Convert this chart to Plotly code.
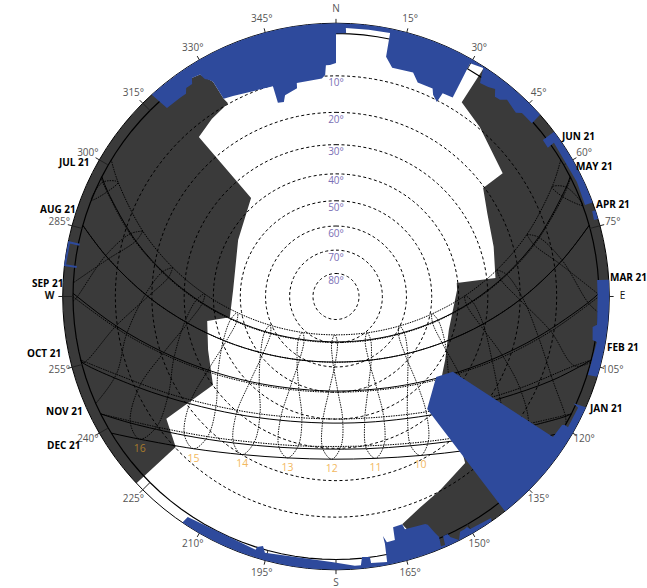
import math
import plotly.graph_objects as go

# ---- sun positions: azimuth / altitude in degrees, one entry per clock hour
JUN_FIRST, JUL_FIRST, AUG_FIRST, SEP_FIRST, OCT_FIRST, NOV_FIRST = 5, 5, 6, 6, 7, 7
DEC_FIRST, JAN_FIRST, FEB_FIRST, MAR_FIRST, APR_FIRST, MAY_FIRST = 8, 8, 7, 7, 6, 5
JUN_AZ = [63.1, 72.0, 80.6, 89.7, 100.3, 114.9, 139.4, 181.9, 223.1, 246.5, 260.7, 271.1, 280.1, 288.7, 297.7]
JUN_ALT = [4.7, 15.3, 26.4, 37.8, 49.3, 60.2, 69.4, 73.4, 68.8, 59.4, 48.4, 36.9, 25.5, 14.4, 3.8]
JUL_AZ = [64.6, 73.7, 82.6, 92.0, 103.0, 117.8, 141.2, 178.3, 216.4, 240.7, 256.0, 267.2, 276.6, 285.5, 294.7]
JUL_ALT = [1.8, 12.5, 23.7, 35.2, 46.6, 57.4, 66.3, 70.4, 66.9, 58.2, 47.5, 36.1, 24.7, 13.4, 2.6]
AUG_AZ = [80.9, 90.4, 100.6, 112.6, 128.5, 151.0, 180.5, 209.9, 232.1, 247.8, 259.8, 270.0, 279.4]
AUG_ALT = [7.9, 19.3, 30.7, 41.7, 51.6, 59.1, 62.0, 58.9, 51.3, 41.4, 30.4, 18.9, 7.5]
SEP_AZ = [91.4, 101.2, 112.0, 124.9, 140.9, 161.1, 184.2, 206.7, 225.3, 240.1, 252.0, 262.4]
SEP_ALT = [2.4, 13.8, 24.8, 34.9, 43.3, 48.9, 50.4, 47.4, 40.6, 31.4, 20.9, 9.7]
OCT_AZ = [111.1, 121.9, 134.6, 149.6, 167.2, 186.1, 204.3, 220.3, 233.8, 245.2, 255.3]
OCT_ALT = [7.1, 17.4, 26.4, 33.5, 37.7, 38.4, 35.4, 29.2, 20.8, 10.9, 0.3]
NOV_AZ = [117.6, 128.0, 139.8, 153.4, 168.7, 184.9, 200.7, 215.0, 227.5, 238.4]
NOV_ALT = [0.9, 10.5, 18.8, 25.2, 28.9, 29.6, 27.0, 21.6, 14.0, 4.9]
DEC_AZ = [128.1, 139.2, 152.0, 166.3, 181.5, 196.7, 210.7, 223.1, 234.0]
DEC_ALT = [6.4, 14.7, 21.2, 25.3, 26.5, 24.7, 20.1, 13.2, 4.6]
JAN_AZ = [123.5, 134.6, 147.5, 162.1, 178.1, 194.2, 209.3, 222.5, 234.0]
JAN_ALT = [7.5, 16.5, 23.7, 28.6, 30.6, 29.3, 25.1, 18.3, 9.7]
FEB_AZ = [106.2, 116.5, 128.2, 142.0, 158.4, 176.9, 195.7, 212.9, 227.6, 239.9, 250.5]
FEB_ALT = [3.3, 14.0, 23.7, 31.8, 37.6, 40.0, 38.8, 34.0, 26.6, 17.3, 6.9]
MAR_AZ = [99.2, 109.8, 122.0, 137.2, 156.2, 178.8, 201.5, 221.0, 236.5, 249.0, 259.7, 269.5]
MAR_ALT = [10.8, 21.9, 32.3, 41.1, 47.5, 50.0, 48.0, 42.0, 33.3, 23.1, 12.0, 0.6]
APR_AZ = [81.6, 91.0, 101.3, 113.6, 129.9, 152.8, 182.7, 211.7, 233.4, 248.7, 260.6, 270.6, 280.1]
APR_ALT = [8.7, 20.1, 31.5, 42.5, 52.3, 59.5, 61.9, 58.5, 50.7, 40.6, 29.6, 18.1, 6.7]
MAY_AZ = [66.3, 75.4, 84.3, 93.9, 105.3, 121.2, 146.6, 185.3, 221.1, 243.5, 257.8, 268.6, 278.0, 286.9, 296.1]
MAY_ALT = [3.4, 14.2, 25.5, 37.0, 48.3, 58.9, 67.2, 70.1, 65.5, 56.3, 45.5, 34.1, 22.6, 11.4, 0.7]

# sunrise and sunset azimuth of every month line, on the horizon
RISE_AZ = [58.7, 62.9, 74.3, 89.3, 104.0, 116.5, 121.3, 116.5, 104.0, 90.0, 74.3, 63.2]
SET_AZ = [301.3, 297.1, 285.7, 270.7, 256.0, 243.5, 238.7, 243.5, 256.0, 270.0, 285.7, 296.8]

# where hour loops run into the horizon
HOUR_EDGE_5 = [69.7]
HOUR_EDGE_6 = [93.5, 89.6]
HOUR_EDGE_7 = [119.0, 104.5]
HOUR_EDGE_17 = [256.5, 246.0]
HOUR_EDGE_18 = [273.0, 269.0]
HOUR_EDGE_19 = [291.5]

# ---- obstruction mask outlines
WEST_MASK_AZ = [226.9, 230, 235, 240, 245, 250, 255, 260, 265, 270, 275, 280, 285, 290, 295, 300, 305, 310, 315, 317.6,
                328.5, 330.2, 330.4, 330.8, 325.1, 319.3, 319.2, 300.0, 273.6, 259.0, 259.2, 247.3, 234.3, 234.2, 226.8]
WEST_MASK_ALT = [-2.2] * 20 + [0.6, 3.5, 8.3, 9.8, 11.0, 12.7, 37.4, 43.5, 47.2, 45.3, 37.0, 34.4, 30.1, 13.0, 10.2]

EAST_MASK_AZ = [32.9, 35, 40, 45, 50, 55, 60, 65, 70, 75, 80, 85, 90, 95, 100, 105, 110, 115, 120, 125, 130, 135, 140, 145,
                150, 155, 160, 163.8, 158.2, 151.7, 142.2, 126.5, 120.2, 106.4, 86.9, 83.6, 83.4, 72.5, 61.1, 53.6, 53.5, 40.3, 32.9]
EAST_MASK_ALT = [-2.2] * 27 + [5.9, 8.4, 10.2, 12.6, 36.7, 38.7, 41.8, 40.5, 40.4, 27.2, 25.7, 23.4, 20.4, 13.5, 9.6, 7.3]

NORTH_BLUE_AZ = [317.6, 320, 325, 330, 335, 340, 345, 350, 355, 0, 5, 10, 15, 20, 25, 30, 35, 40, 45, 48.3,
                 48.5, 45.4, 44.4, 41.0, 39.8, 38.5, 37.5, 36.0, 34.0, 32.8, 29.9, 30.4, 27.7, 27.4, 25.7, 24.9, 20.9,
                 19.0, 13.8, 11.8, 11.6, 7, 2.1, 2.2, 0.0, 0.0, 358.5, 357.5, 357.2, 356.3, 349.6, 349.4, 345.8, 345.0,
                 343.3, 343.3, 332.8, 330.4, 330.2, 329.6, 328.9, 328.5, 326.6, 325.9, 324.3, 323.5, 322.1, 318.1]
NORTH_BLUE_ALT = [-2.2] * 20 + [0.3, 0.4, 1.3, 0.5, 1.5, 1.7, 0.35, 0.9, 1.2, -1.9, -1.3, 7.5, 7.8, 10.4, 9.2, 7.8, 7.9,
                                6.0, 6.3, 4.1, -1.3, -1.25, -1.25, -0.15, 0.0, 6.8, 7.3, 7.3, 9.7, 10.6, 10.9, 12.3, 13.4, 15.1,
                                14.9, 10.3, 8.8, 8.3, 3.5, 2.6, 2.0, 0.6, 0.3, 1.4, 1.4, 2.4, 2.3, 2.2]

JUNE_BLUE_AZ = [52.9, 55, 60, 65, 69.9, 69.8, 64.6, 54.8, 54.9, 52.9]
JUNE_BLUE_ALT = [-2.2, -2.2, -2.2, -2.2, -2.2, -0.5, -0.8, -0.8, 0.9, 0.8]
APRIL_BLUE_AZ = [71.6, 73.5, 73.5, 71.6]
APRIL_BLUE_ALT = [-2.2, -2.2, -1.3, -1.5]
EAST_BLUE_AZ = [86.5, 90, 95, 100, 105, 107.1, 107.3, 99.9, 99.6, 96.8, 96.2, 90.0, 86.4]
EAST_BLUE_ALT = [-2.2, -2.2, -2.2, -2.2, -2.2, -2.2, -0.2, -0.4, 0.6, 1.0, 0.1, 0.3, 0.3]
SE_BLUE_AZ = [113.9, 115, 120, 125, 130, 135, 140, 141.8, 141.0, 128.8, 122.8, 122.9, 119.6, 119.3, 119.4, 114.7, 114.2]
SE_BLUE_ALT = [-2.2, -2.2, -2.2, -2.2, -2.2, -2.2, -2.2, -2.2, 32.3, 37.9, 34.3, 1.0, 0.65, 0.1, -0.7, -0.75, 0.6]
SOUTH_BLUE_AZ = [145.3, 150, 155, 160, 165, 170, 175, 180, 185, 190, 195, 200, 205, 210, 214.2,
                 213.9, 197.6, 197.5, 196.3, 195.5, 180.6, 176.0, 174.7, 174.3, 172.6, 172.5, 169.1, 168.8, 168.9, 168.3,
                 166.4, 166.1, 163.8, 163.5, 158.6, 158.1, 157.3, 156.8, 157.2, 156.3, 155.9, 154.8, 154.6, 153.2, 152.2,
                 151.0, 150.4, 150.0, 145.0]
SOUTH_BLUE_ALT = [-2.2] * 15 + [-0.6, -0.6, 0.1, 0.65, -0.65, -0.6, -1.5, -1.5, 0.25, 0.05, -1.25, -1.6, 2.5, 4.3, 2.7,
                                2.8, 5.8, 5.9, 4.6, 4.2, 3.8, 1.5, 0.3, -1.7, -1.8, 0.15, 0.1, -0.7, -2.1, -0.65,
                                -0.6, -0.45, -1.15, -1.6]
WEST_TAB_AZ = [281.4, 281.5, 276.6, 276.5]
WEST_TAB_ALT = [0.3, -2.0, -2.1, 0.45]

# ---- labels and axes
ALT_RINGS = [10, 20, 30, 40, 50, 60, 70, 80]
ALT_LABELS = ["10°", "20°", "30°", "40°", "50°", "60°", "70°", "80°"]
AZ_TICKS = list(range(0, 360, 15))
AZ_LABELS = ["N", "15°", "30°", "45°", "60°", "75°", "E", "105°", "120°", "135°", "150°", "165°",
             "S", "195°", "210°", "225°", "240°", "255°", "<b>W</b>", "285°", "300°", "315°", "330°", "345°"]
AZ_LABEL_COLORS = ["#555555"] * 6 + ["#111111"] + ["#555555"] * 11 + ["#111111"] + ["#555555"] * 5
HOUR_LABELS = ["10", "11", "12", "13", "14", "15", "16"]
HOUR_COLORS = ["#f2b860"] * 6 + ["#a67a2c"]
MONTH_LABELS = ["JUN 21", "MAY 21", "APR 21", "MAR 21", "FEB 21", "JAN 21",
                "DEC 21", "NOV 21", "OCT 21", "SEP 21", "AUG 21", "JUL 21"]
MONTH_LABEL_X = [578, 594, 613, 628, 623, 605, 63, 64, 44, 47, 58, 74]
MONTH_LABEL_Y = [136, 166, 204, 277, 347, 408, 445, 411, 353, 283, 209, 162]

GRAY = "#3a3a3a"
BLUE = "#2e4a9c"
EDGE_ALT = -2.2      # outer rim of the horizon band
TICK_ALT = -3.1      # end of the azimuth tick marks
LABEL_ALT = -4.9     # centre of the azimuth labels
AXIS_ALT = -5.5      # end of the radial axis
W, H = 647, 588
CX, CY, HORIZON_PX = 336, 296.5, 263


def rad(alt):
    """stereographic sky projection: altitude in degrees to radial axis units"""
    if alt is None:
        return None
    return math.tan(math.radians(45 - alt / 2))


RPX = HORIZON_PX * rad(AXIS_ALT)

MONTHS = [
    ("JUN", JUN_FIRST, JUN_AZ, JUN_ALT), ("JUL", JUL_FIRST, JUL_AZ, JUL_ALT), ("AUG", AUG_FIRST, AUG_AZ, AUG_ALT),
    ("SEP", SEP_FIRST, SEP_AZ, SEP_ALT), ("OCT", OCT_FIRST, OCT_AZ, OCT_ALT), ("NOV", NOV_FIRST, NOV_AZ, NOV_ALT),
    ("DEC", DEC_FIRST, DEC_AZ, DEC_ALT), ("JAN", JAN_FIRST, JAN_AZ, JAN_ALT), ("FEB", FEB_FIRST, FEB_AZ, FEB_ALT),
    ("MAR", MAR_FIRST, MAR_AZ, MAR_ALT), ("APR", APR_FIRST, APR_AZ, APR_ALT), ("MAY", MAY_FIRST, MAY_AZ, MAY_ALT),
]
EDGES = {5: HOUR_EDGE_5, 6: HOUR_EDGE_6, 7: HOUR_EDGE_7, 17: HOUR_EDGE_17, 18: HOUR_EDGE_18, 19: HOUR_EDGE_19}
DOTTED = {"JAN", "FEB", "MAR", "APR", "MAY", "JUN"}
DOTS = "1.5px,1px"

fig = go.Figure()


def area(az, alt, color):
    fig.add_trace(go.Scatterpolar(theta=az, r=[rad(a) for a in alt], mode="lines", fill="toself",
                                  fillcolor=color, line=dict(width=0), hoverinfo="skip"))


def curve(az, alt, width=1.0, dash="solid", shape="linear", color="black"):
    fig.add_trace(go.Scatterpolar(theta=az, r=[rad(a) for a in alt], mode="lines",
                                  line=dict(width=width, dash=dash, shape=shape, color=color), hoverinfo="skip"))


area(WEST_MASK_AZ, WEST_MASK_ALT, GRAY)
area(EAST_MASK_AZ, EAST_MASK_ALT, GRAY)

ring_az = list(range(0, 361, 3))
for ring in ALT_RINGS:
    curve(ring_az, [ring] * len(ring_az), width=1.0, dash="3px,2.5px")
curve(ring_az, [0] * len(ring_az), width=1.2)
curve(ring_az, [EDGE_ALT] * len(ring_az), width=1.0)

# tick marks across the horizon band; the part on the blue strips is hidden by the blue areas below
tick_az, tick_alt = [], []
for a in AZ_TICKS:
    tick_az += [a, a, None]
    tick_alt += [0, TICK_ALT, None]
curve(tick_az, tick_alt, width=1.0, color="#222222")

# month lines
for i, (name, first, az, alt) in enumerate(MONTHS):
    curve([RISE_AZ[i]] + az + [SET_AZ[i]], [0] + alt + [0], width=1.0,
          dash=DOTS if name in DOTTED else "solid", shape="spline")

# hour loops, built from the same sun positions
for hour in range(5, 20):
    loop_az, loop_alt = [], []
    in_gap = False
    for name, first, az, alt in MONTHS + MONTHS[:1]:
        k = hour - first
        if 0 <= k < len(az):
            loop_az.append(az[k])
            loop_alt.append(alt[k])
            in_gap = False
        elif not in_gap:
            in_gap = True
            edge = EDGES[hour]
            loop_az.append(edge[0])
            loop_alt.append(0)
            if len(edge) > 1:
                loop_az += [None, edge[1]]
                loop_alt += [None, 0]
    curve(loop_az, loop_alt, width=0.9, dash=DOTS, shape="spline")

area(NORTH_BLUE_AZ, NORTH_BLUE_ALT, BLUE)
area(JUNE_BLUE_AZ, JUNE_BLUE_ALT, BLUE)
area(APRIL_BLUE_AZ, APRIL_BLUE_ALT, BLUE)
area(EAST_BLUE_AZ, EAST_BLUE_ALT, BLUE)
area(SE_BLUE_AZ, SE_BLUE_ALT, BLUE)
area(SOUTH_BLUE_AZ, SOUTH_BLUE_ALT, BLUE)
curve(WEST_TAB_AZ, WEST_TAB_ALT, width=2, color=BLUE)

# altitude labels below each ring on the north meridian
fig.add_trace(go.Scatterpolar(theta=[0] * len(ALT_RINGS), r=[rad(a) for a in ALT_RINGS], mode="markers+text",
                              marker=dict(size=3.2, opacity=0), cliponaxis=False,
                              text=ALT_LABELS, textposition="bottom center", hoverinfo="skip",
                              textfont=dict(family="Open Sans", size=10, color="#7a6fb5")))
# hour labels below the December line
fig.add_trace(go.Scatterpolar(theta=DEC_AZ[2:], r=[rad(a) for a in DEC_ALT[2:]], mode="markers+text",
                              marker=dict(size=6.4, opacity=0), cliponaxis=False,
                              text=HOUR_LABELS, textposition="bottom center", hoverinfo="skip",
                              textfont=dict(family="Open Sans", size=10.5, color=HOUR_COLORS)))
# azimuth labels just outside the rim
fig.add_trace(go.Scatterpolar(theta=AZ_TICKS, r=[rad(LABEL_ALT)] * len(AZ_TICKS), mode="text", cliponaxis=False,
                              text=AZ_LABELS, textposition="middle center", hoverinfo="skip",
                              textfont=dict(family="Open Sans", size=10, color=AZ_LABEL_COLORS)))

annotations = [dict(text="<b>%s</b>" % t, x=x / W, y=1 - y / H, xref="paper", yref="paper", showarrow=False,
                    xanchor="center", yanchor="middle",
                    font=dict(family="Open Sans", size=10, color="black"))
               for t, x, y in zip(MONTH_LABELS, MONTH_LABEL_X, MONTH_LABEL_Y)]

fig.update_layout(
    width=W, height=H, autosize=False, showlegend=False,
    margin=dict(l=0, r=0, t=0, b=0), paper_bgcolor="white",
    font=dict(family="Open Sans"),
    annotations=annotations,
    polar=dict(
        bgcolor="rgba(0,0,0,0)",
        domain=dict(x=[(CX - RPX) / W, (CX + RPX) / W], y=[1 - (CY + RPX) / H, 1 - (CY - RPX) / H]),
        radialaxis=dict(visible=False, range=[0, rad(AXIS_ALT)], showgrid=False),
        angularaxis=dict(rotation=90, direction="clockwise", showgrid=False, showline=False,
                         ticks="", showticklabels=False),
    ),
)

fig.write_html("out.html", config=dict(displayModeBar=False),
               post_script="document.body.style.margin='0';document.body.style.overflow='hidden';")
